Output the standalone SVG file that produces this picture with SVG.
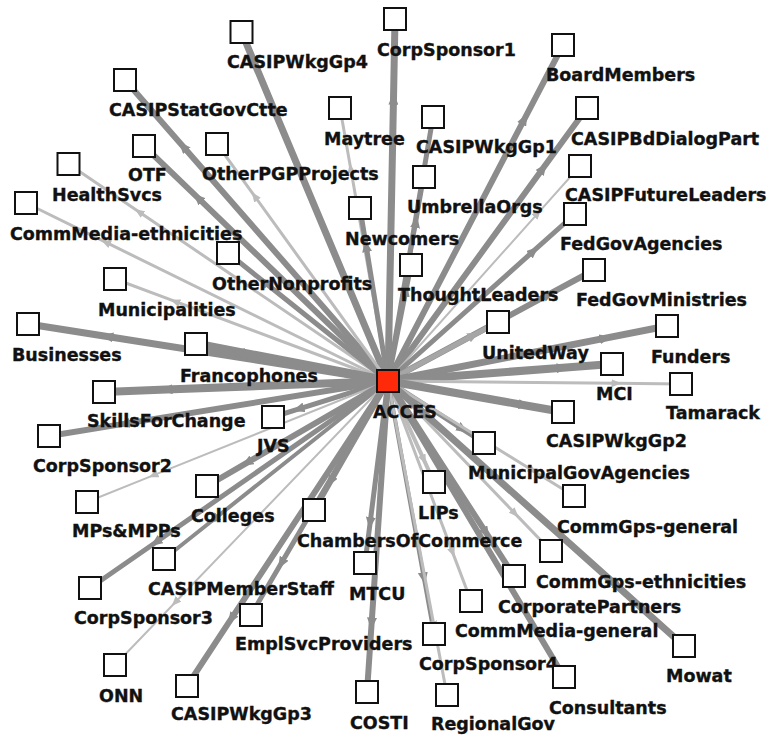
<svg xmlns="http://www.w3.org/2000/svg" width="773" height="739" viewBox="0 0 773 739">
<defs>
<marker id="ad" markerUnits="userSpaceOnUse" markerWidth="12" markerHeight="10" refX="6" refY="5" orient="auto"><path d="M0,0 L12,5 L0,10 z" fill="#8c8c8c"/></marker>
<marker id="al" markerUnits="userSpaceOnUse" markerWidth="10" markerHeight="8" refX="5" refY="4" orient="auto"><path d="M0,0 L10,4 L0,8 z" fill="#bcbcbc"/></marker>
<marker id="am" markerUnits="userSpaceOnUse" markerWidth="12" markerHeight="10" refX="6" refY="5" orient="auto"><path d="M0,0 L12,5 L0,10 z" fill="#a6a6a6"/></marker>
</defs>
<style>
.d{fill:none;stroke:#8c8c8c;marker-mid:url(#ad)}
.l{fill:none;stroke:#bcbcbc;marker-mid:url(#al)}
.m{fill:none;stroke:#a6a6a6;marker-mid:url(#am)}
.n rect{fill:#fff;stroke:#111;stroke-width:2}
.n text{font-family:"DejaVu Sans",Verdana,sans-serif;font-weight:bold;font-size:17.5px;fill:#111;stroke:#111;stroke-width:0.35}
#ACCES rect{fill:#ff2a0a}
</style>
<rect width="773" height="739" fill="#fff"/>
<g id="edges">
<path class="d" stroke-width="7" d="M388,381 L273.7,108.8 L241.5,32"/>
<path class="d" stroke-width="6" d="M388,381 L182.9,146.2 L125,80"/>
<path class="l" stroke-width="3" d="M388,381 L350.6,168.1 L340,108"/>
<path class="d" stroke-width="6" d="M388,381 L197.7,197.7 L144,146"/>
<path class="l" stroke-width="3" d="M388,381 L254.6,196.1 L217,144"/>
<path class="l" stroke-width="3" d="M388,381 L138.8,211.7 L68.5,164"/>
<path class="l" stroke-width="3" d="M388,381 L105.6,242.2 L26,203"/>
<path class="d" stroke-width="5" d="M388,381 L366.2,246.1 L360,208"/>
<path class="d" stroke-width="5" d="M388,381 L263.2,281.2 L228,253"/>
<path class="l" stroke-width="3" d="M388,381 L175.1,301.4 L115,279"/>
<path class="d" stroke-width="7" d="M388,381 L107.2,336.5 L28,324"/>
<path class="d" stroke-width="9" d="M388,381 L238.2,352.1 L196,344"/>
<path class="d" stroke-width="7" d="M388,381 L393.5,98.6 L395,19"/>
<path class="d" stroke-width="6" d="M388,381 L524.5,118.9 L563,45"/>
<path class="d" stroke-width="5" d="M388,381 L423.1,175.1 L433,117"/>
<path class="d" stroke-width="6" d="M388,381 L543.2,168.1 L587,108"/>
<path class="d" stroke-width="4" d="M388,381 L416.1,221.9 L424,177"/>
<path class="l" stroke-width="2" d="M388,381 L537.8,213.3 L580,166"/>
<path class="d" stroke-width="5" d="M388,381 L533.9,250.7 L575,214"/>
<path class="d" stroke-width="5" d="M388,381 L405.9,290.5 L411,265"/>
<path class="d" stroke-width="6" d="M388,381 L548.7,294.4 L594,270"/>
<path class="m" stroke-width="5" d="M388,381 L473.8,335 L498,322"/>
<path class="d" stroke-width="7" d="M388,381 L605.6,338.1 L667,326"/>
<path class="d" stroke-width="8" d="M388,381 L562.7,367.7 L612,364"/>
<path class="l" stroke-width="3" d="M388,381 L616.5,383.3 L681,384"/>
<path class="d" stroke-width="8" d="M388,381 L524.5,405.2 L563,412"/>
<path class="d" stroke-width="5" d="M388,381 L462.9,429.4 L484,443"/>
<path class="l" stroke-width="4" d="M388,381 L423.9,459.8 L434,482"/>
<path class="l" stroke-width="3" d="M388,381 L533.1,470.7 L574,496"/>
<path class="d" stroke-width="6" d="M388,381 L330.3,481.6 L314,510"/>
<path class="l" stroke-width="3" d="M388,381 L515.1,513.6 L551,551"/>
<path class="d" stroke-width="6" d="M388,381 L486.3,533.1 L514,576"/>
<path class="l" stroke-width="3" d="M388,381 L452.7,552.6 L471,601"/>
<path class="d" stroke-width="4" d="M388,381 L423.9,578.3 L434,634"/>
<path class="d" stroke-width="7" d="M388,381 L618.9,587.7 L684,646"/>
<path class="d" stroke-width="6" d="M388,381 L525.3,611.9 L564,677"/>
<path class="l" stroke-width="3" d="M388,381 L434,625.9 L447,695"/>
<path class="d" stroke-width="6" d="M388,381 L371.6,623.6 L367,692"/>
<path class="d" stroke-width="5" d="M388,381 L370.1,523 L365,563"/>
<path class="d" stroke-width="8" d="M388,381 L166.5,389.6 L104,392"/>
<path class="d" stroke-width="6" d="M388,381 L123.6,423.9 L49,436"/>
<path class="d" stroke-width="5" d="M388,381 L298.3,409.1 L273,417"/>
<path class="l" stroke-width="2" d="M388,381 L153.2,475.4 L87,502"/>
<path class="d" stroke-width="6" d="M388,381 L246.8,462.9 L207,486"/>
<path class="d" stroke-width="4" d="M388,381 L213.3,519.8 L164,559"/>
<path class="d" stroke-width="5" d="M388,381 L155.6,542.5 L90,588"/>
<path class="d" stroke-width="5" d="M388,381 L281.1,563.5 L251,615"/>
<path class="l" stroke-width="2" d="M388,381 L175.1,602.5 L115,665"/>
<path class="d" stroke-width="6" d="M388,381 L231.2,618.9 L187,686"/>
</g>
<g id="CASIPWkgGp4" class="n"><rect x="230.5" y="21" width="22" height="22"/><text x="227" y="68">CASIPWkgGp4</text></g>
<g id="CASIPStatGovCtte" class="n"><rect x="114" y="69" width="22" height="22"/><text x="109" y="116">CASIPStatGovCtte</text></g>
<g id="Maytree" class="n"><rect x="329" y="97" width="22" height="22"/><text x="324" y="145">Maytree</text></g>
<g id="OTF" class="n"><rect x="133" y="135" width="22" height="22"/><text x="128" y="181">OTF</text></g>
<g id="OtherPGPProjects" class="n"><rect x="206" y="133" width="22" height="22"/><text x="202" y="180">OtherPGPProjects</text></g>
<g id="HealthSvcs" class="n"><rect x="57.5" y="153" width="22" height="22"/><text x="52" y="201">HealthSvcs</text></g>
<g id="CommMedia-ethnicities" class="n"><rect x="15" y="192" width="22" height="22"/><text x="10" y="240">CommMedia-ethnicities</text></g>
<g id="Newcomers" class="n"><rect x="349" y="197" width="22" height="22"/><text x="345" y="245">Newcomers</text></g>
<g id="OtherNonprofits" class="n"><rect x="217" y="242" width="22" height="22"/><text x="212" y="290">OtherNonprofits</text></g>
<g id="Municipalities" class="n"><rect x="104" y="268" width="22" height="22"/><text x="98" y="316">Municipalities</text></g>
<g id="Businesses" class="n"><rect x="17" y="313" width="22" height="22"/><text x="12" y="361">Businesses</text></g>
<g id="Francophones" class="n"><rect x="185" y="333" width="22" height="22"/><text x="180" y="382">Francophones</text></g>
<g id="CorpSponsor1" class="n"><rect x="384" y="8" width="22" height="22"/><text x="377" y="56">CorpSponsor1</text></g>
<g id="BoardMembers" class="n"><rect x="552" y="34" width="22" height="22"/><text x="546" y="81">BoardMembers</text></g>
<g id="CASIPWkgGp1" class="n"><rect x="422" y="106" width="22" height="22"/><text x="416" y="153">CASIPWkgGp1</text></g>
<g id="CASIPBdDialogPart" class="n"><rect x="576" y="97" width="22" height="22"/><text x="571" y="145">CASIPBdDialogPart</text></g>
<g id="UmbrellaOrgs" class="n"><rect x="413" y="166" width="22" height="22"/><text x="407" y="213">UmbrellaOrgs</text></g>
<g id="CASIPFutureLeaders" class="n"><rect x="569" y="155" width="22" height="22"/><text x="565" y="201">CASIPFutureLeaders</text></g>
<g id="FedGovAgencies" class="n"><rect x="564" y="203" width="22" height="22"/><text x="560" y="250">FedGovAgencies</text></g>
<g id="ThoughtLeaders" class="n"><rect x="400" y="254" width="22" height="22"/><text x="398" y="301">ThoughtLeaders</text></g>
<g id="FedGovMinistries" class="n"><rect x="583" y="259" width="22" height="22"/><text x="576" y="306">FedGovMinistries</text></g>
<g id="UnitedWay" class="n"><rect x="487" y="311" width="22" height="22"/><text x="482" y="359">UnitedWay</text></g>
<g id="Funders" class="n"><rect x="656" y="315" width="22" height="22"/><text x="651" y="363">Funders</text></g>
<g id="MCI" class="n"><rect x="601" y="353" width="22" height="22"/><text x="596" y="400">MCI</text></g>
<g id="Tamarack" class="n"><rect x="670" y="373" width="22" height="22"/><text x="666" y="419">Tamarack</text></g>
<g id="CASIPWkgGp2" class="n"><rect x="552" y="401" width="22" height="22"/><text x="546" y="447">CASIPWkgGp2</text></g>
<g id="MunicipalGovAgencies" class="n"><rect x="473" y="432" width="22" height="22"/><text x="468" y="479">MunicipalGovAgencies</text></g>
<g id="LIPs" class="n"><rect x="423" y="471" width="22" height="22"/><text x="418" y="519">LIPs</text></g>
<g id="CommGps-general" class="n"><rect x="563" y="485" width="22" height="22"/><text x="557" y="533">CommGps-general</text></g>
<g id="ChambersOfCommerce" class="n"><rect x="303" y="499" width="22" height="22"/><text x="297" y="547">ChambersOfCommerce</text></g>
<g id="CommGps-ethnicities" class="n"><rect x="540" y="540" width="22" height="22"/><text x="536" y="588">CommGps-ethnicities</text></g>
<g id="CorporatePartners" class="n"><rect x="503" y="565" width="22" height="22"/><text x="498" y="613">CorporatePartners</text></g>
<g id="CommMedia-general" class="n"><rect x="460" y="590" width="22" height="22"/><text x="455" y="637">CommMedia-general</text></g>
<g id="CorpSponsor4" class="n"><rect x="423" y="623" width="22" height="22"/><text x="419" y="670">CorpSponsor4</text></g>
<g id="Mowat" class="n"><rect x="673" y="635" width="22" height="22"/><text x="666" y="682">Mowat</text></g>
<g id="Consultants" class="n"><rect x="553" y="666" width="22" height="22"/><text x="549" y="714">Consultants</text></g>
<g id="RegionalGov" class="n"><rect x="436" y="684" width="22" height="22"/><text x="431" y="730">RegionalGov</text></g>
<g id="COSTI" class="n"><rect x="356" y="681" width="22" height="22"/><text x="350" y="729">COSTI</text></g>
<g id="MTCU" class="n"><rect x="354" y="552" width="22" height="22"/><text x="349" y="600">MTCU</text></g>
<g id="SkillsForChange" class="n"><rect x="93" y="381" width="22" height="22"/><text x="87" y="427">SkillsForChange</text></g>
<g id="CorpSponsor2" class="n"><rect x="38" y="425" width="22" height="22"/><text x="33" y="472">CorpSponsor2</text></g>
<g id="JVS" class="n"><rect x="262" y="406" width="22" height="22"/><text x="257" y="452">JVS</text></g>
<g id="MPs&amp;MPPs" class="n"><rect x="76" y="491" width="22" height="22"/><text x="72" y="537">MPs&amp;MPPs</text></g>
<g id="Colleges" class="n"><rect x="196" y="475" width="22" height="22"/><text x="191" y="522">Colleges</text></g>
<g id="CASIPMemberStaff" class="n"><rect x="153" y="548" width="22" height="22"/><text x="148" y="595">CASIPMemberStaff</text></g>
<g id="CorpSponsor3" class="n"><rect x="79" y="577" width="22" height="22"/><text x="74" y="624">CorpSponsor3</text></g>
<g id="EmplSvcProviders" class="n"><rect x="240" y="604" width="22" height="22"/><text x="235" y="650">EmplSvcProviders</text></g>
<g id="ONN" class="n"><rect x="104" y="654" width="22" height="22"/><text x="99" y="702">ONN</text></g>
<g id="CASIPWkgGp3" class="n"><rect x="176" y="675" width="22" height="22"/><text x="171" y="720">CASIPWkgGp3</text></g>
<g id="ACCES" class="n"><rect x="377" y="370" width="22" height="22"/><text x="373" y="418">ACCES</text></g>
</svg>
